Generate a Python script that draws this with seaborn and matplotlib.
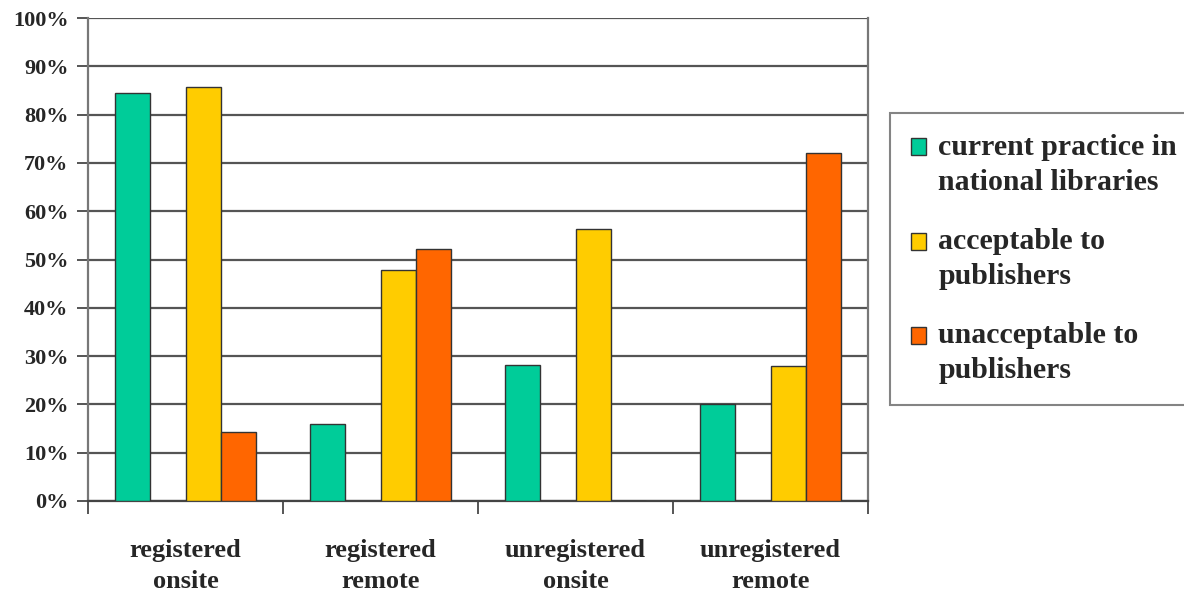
import matplotlib
matplotlib.use("Agg")
import matplotlib.pyplot as plt
import seaborn as sns
import pandas as pd
from matplotlib.patches import Patch, Rectangle
from matplotlib.legend_handler import HandlerPatch
from matplotlib.ticker import FixedLocator, FuncFormatter

# --- data -------------------------------------------------------------
categories = ["registered\nonsite", "registered\nremote",
              "unregistered\nonsite", "unregistered\nremote"]
current_practice = [84.4, 15.9, 28.1, 20.0]
acceptable = [85.7, 47.8, 56.3, 28.0]
unacceptable = [14.3, 52.2, 0.0, 72.0]
series_labels = ["current practice in\nnational libraries",
                 "acceptable to\npublishers",
                 "unacceptable to\npublishers"]
y_ticks = [0, 10, 20, 30, 40, 50, 60, 70, 80, 90, 100]

series_colors = ["#00CC99", "#FFCC00", "#FF6600"]
spacer = " "  # empty slot between the first and second series

rows = []
for label, values in zip(series_labels, [current_practice, acceptable, unacceptable]):
    for cat, v in zip(categories, values):
        rows.append({"category": cat, "series": label, "value": v})
df = pd.DataFrame(rows)

hue_order = [series_labels[0], spacer, series_labels[1], series_labels[2]]
palette = {series_labels[0]: series_colors[0], spacer: "white",
           series_labels[1]: series_colors[1], series_labels[2]: series_colors[2]}

# --- figure -----------------------------------------------------------
sns.set_style("white")
plt.rcParams["font.family"] = ["Liberation Serif", "DejaVu Serif"]
plt.rcParams["font.weight"] = "bold"

W, H = 1184, 598
fig = plt.figure(figsize=(W / 100, H / 100), dpi=100)
ax = fig.add_axes([88 / W, 1 - 501 / H, (868 - 88) / W, (501 - 18) / H])

sns.barplot(data=df, x="category", y="value", hue="series",
            order=categories, hue_order=hue_order, palette=palette,
            width=0.72, dodge=True, edgecolor="#333333", linewidth=1.0,
            saturation=1.0, legend=False, ax=ax, zorder=3)

ax.set_xlim(-0.5, len(categories) - 0.5)
ax.set_ylim(0, 100)

# horizontal grid
ax.yaxis.set_major_locator(FixedLocator(y_ticks))
ax.yaxis.set_major_formatter(FuncFormatter(lambda v, p: f"{int(v)}%"))
ax.grid(axis="y", color="#555555", linewidth=1.6, zorder=0)
ax.set_axisbelow(True)
ax.grid(axis="x", visible=False)

# spines
for side in ["left", "bottom", "right"]:
    ax.spines[side].set_visible(True)
    ax.spines[side].set_color("#777777")
    ax.spines[side].set_linewidth(1.6)
ax.spines["top"].set_visible(False)
ax.spines["bottom"].set_color("#444444")

# ticks
ax.tick_params(axis="y", which="major", left=True, length=8, width=1.4,
               color="#555555", direction="out", labelsize=16, pad=6)
ax.xaxis.set_minor_locator(FixedLocator([i + 0.5 for i in range(-1, len(categories))]))
ax.tick_params(axis="x", which="minor", bottom=True, length=9, width=1.4,
               color="#555555", direction="out")
ax.tick_params(axis="x", which="major", bottom=False, labelsize=19, pad=24)
for t in ax.get_xticklabels():
    t.set_linespacing(1.45)
    t.set_fontweight("bold")
for t in ax.get_yticklabels():
    t.set_fontweight("bold")
ax.set_xlabel("")
ax.set_ylabel("")


# legend swatches sit level with the first line of each two-line label
def first_line_swatch(legend, orig_handle, xdescent, ydescent, width, height, fontsize):
    lift = 0.6 * fontsize
    return Rectangle((-xdescent, -ydescent + lift), width, height)


handles = [Patch(facecolor=c, edgecolor="#333333", linewidth=1.0) for c in series_colors]
leg = fig.legend(handles, series_labels, loc="upper left",
                 bbox_to_anchor=(890 / W, 1 - 113 / H), bbox_transform=fig.transFigure,
                 frameon=True, fancybox=False, edgecolor="#666666",
                 prop={"family": "Liberation Serif", "weight": "bold", "size": 21.5},
                 handlelength=0.5, handleheight=0.5, handletextpad=0.42,
                 labelspacing=1.08, borderpad=0.7, borderaxespad=0,
                 handler_map={Patch: HandlerPatch(patch_func=first_line_swatch)})
leg.get_frame().set_linewidth(1.5)
for t in leg.get_texts():
    t.set_linespacing(1.38)

fig.savefig("out.png", dpi=100, facecolor="white")
